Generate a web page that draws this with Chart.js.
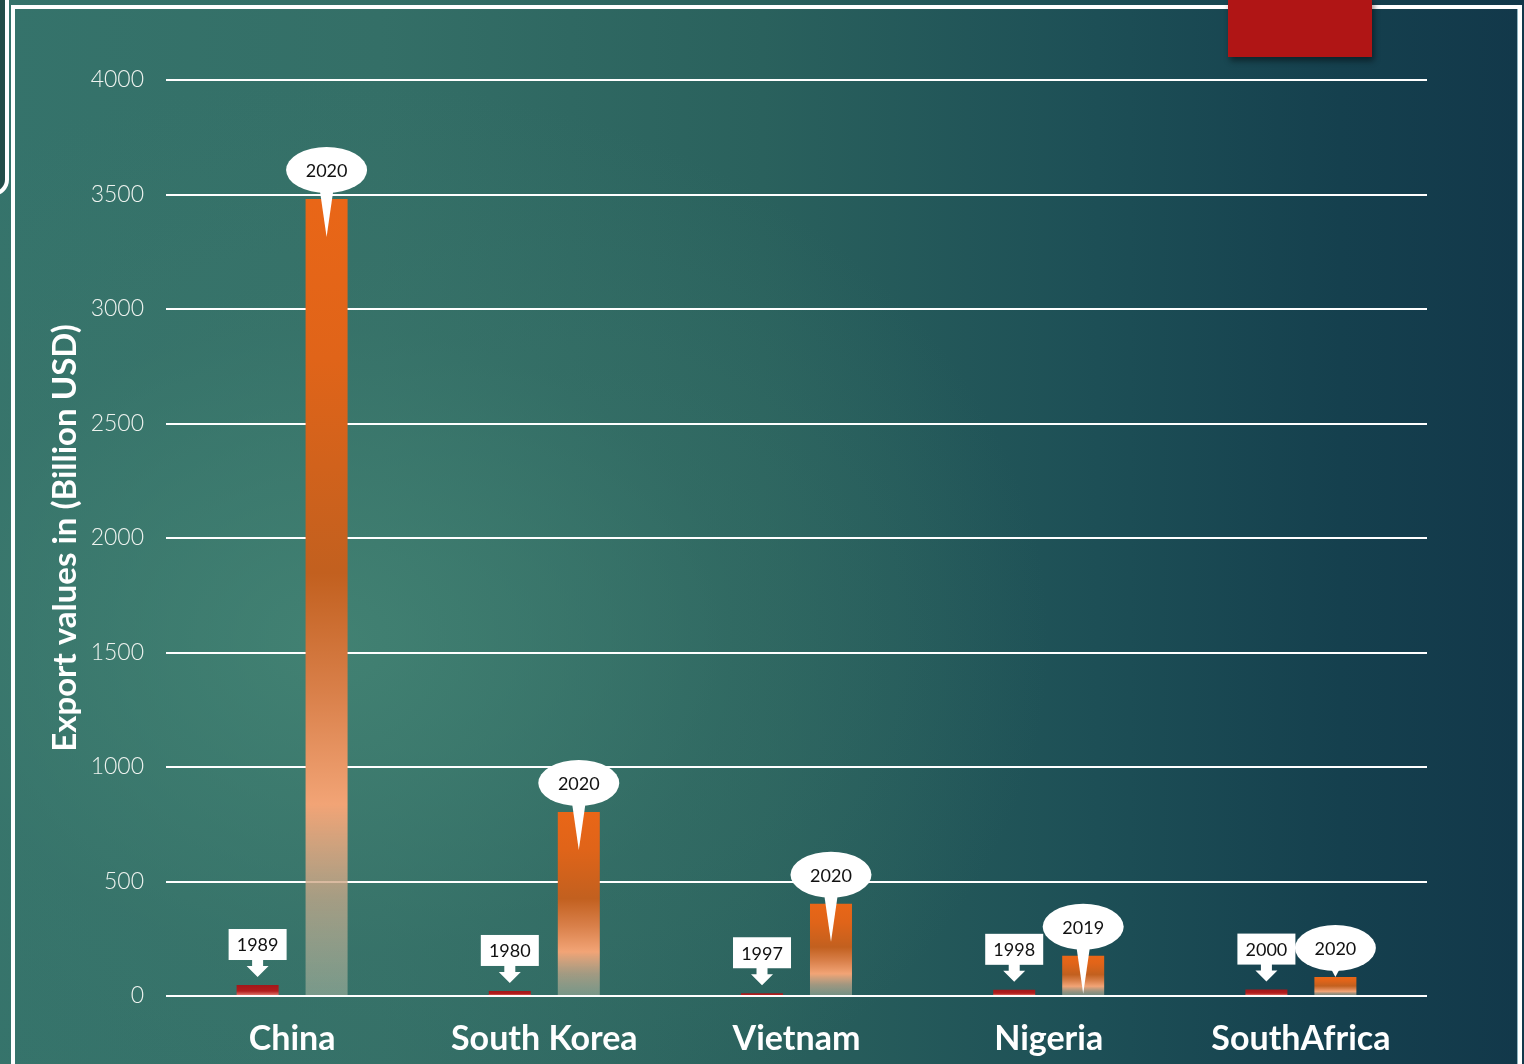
<!DOCTYPE html>
<html>
<head>
<meta charset="utf-8">
<script src="https://cdn.jsdelivr.net/npm/chart.js@4.4.1/dist/chart.umd.min.js"></script>
<style>
  html, body { margin: 0; padding: 0; }
  body {
    width: 1524px; height: 1064px; overflow: hidden; position: relative;
    background:
      radial-gradient(ellipse 900px 700px at 330px 640px, rgba(70,135,118,0.75) 0%, rgba(60,120,108,0.35) 45%, rgba(40,95,92,0) 80%),
      linear-gradient(to right, #35736b 0%, #346f67 25%, #2a615d 50%, #1d4f56 72%, #15404e 88%, #12384a 100%);
  }
  #c { position: absolute; left: 0; top: 0; z-index: 1; }
  .deco { position: absolute; box-sizing: border-box; z-index: 2; }
  #leftShape { left: -24px; top: -24px; width: 33px; height: 220px; border: 4px solid #fff; border-radius: 22px; background: #224d49; }
  #frame { left: 11px; top: 5px; width: 1511px; height: 1120px; border: 4px solid #fff; box-shadow: inset -1px 0 0 #8fb3c0; }
  #redBox { left: 1228px; top: -2px; width: 144px; height: 59px; background: #b01515; box-shadow: 2px 4px 6px rgba(0,0,0,0.45); z-index: 3; }
</style>
</head>
<body>
<div id="leftShape" class="deco"></div>
<div id="frame" class="deco"></div>
<div id="redBox" class="deco"></div>
<canvas id="c" width="1524" height="1064"></canvas>
<script>
// ---- data ----
const categories = ['China', 'South Korea', 'Vietnam', 'Nigeria', 'SouthAfrica'];
const earlyYears = ['1989', '1980', '1997', '1998', '2000'];
const recentYears = ['2020', '2020', '2020', '2019', '2020'];
const earlyValues = [48, 22, 12, 27, 28];
const recentValues = [3480, 803, 403, 176, 83];
const axisTitle = 'Export values in (Billion USD)';

const FONT = 'Lato, "Open Sans", sans-serif';

function barGradient(ctx, stops, fallback) {
  const chart = ctx.chart;
  const ys = chart.scales && chart.scales.y;
  if (!chart.chartArea || !ys || ctx.raw == null) return fallback;
  const top = ys.getPixelForValue(ctx.raw);
  const base = ys.getPixelForValue(0);
  if (!isFinite(top) || !isFinite(base) || base - top < 1) return fallback;
  const g = chart.ctx.createLinearGradient(0, top, 0, base);
  stops.forEach(s => g.addColorStop(s[0], s[1]));
  return g;
}

const redStops = [[0, '#a3171a'], [0.55, '#b21d1d'], [1, '#e7867a']];
const orangeStops = [[0, '#e96617'], [0.2, '#e06419'], [0.47, '#c2601f'], [0.62, '#d9804a'], [0.76, '#f2a476'], [0.88, 'rgba(200,170,140,0.75)'], [1, 'rgba(175,185,165,0.55)']];

const calloutPlugin = {
  id: 'callouts',
  afterDatasetsDraw(chart) {
    const ctx = chart.ctx;
    const ys = chart.scales.y;
    const base = ys.getPixelForValue(0);
    ctx.save();
    ctx.font = '18px ' + FONT;
    ctx.textAlign = 'center';
    ctx.textBaseline = 'middle';
    chart.getDatasetMeta(0).data.forEach((bar, i) => {
      const x = bar.x, top = bar.y;
      const w = 58, h = 31;
      const rb = top - 25;
      ctx.fillStyle = '#ffffff';
      ctx.fillRect(x - w / 2, rb - h, w, h);
      ctx.beginPath();
      ctx.moveTo(x - 5.5, rb - 1);
      ctx.lineTo(x + 5.5, rb - 1);
      ctx.lineTo(x + 5.5, rb + 6);
      ctx.lineTo(x + 11, rb + 6);
      ctx.lineTo(x, top - 8);
      ctx.lineTo(x - 11, rb + 6);
      ctx.lineTo(x - 5.5, rb + 6);
      ctx.closePath();
      ctx.fill();
      ctx.fillStyle = '#111111';
      ctx.fillText(earlyYears[i], x, rb - h / 2 + 1);
    });
    chart.getDatasetMeta(1).data.forEach((bar, i) => {
      const x = bar.x, top = bar.y;
      const cy = top - 29;
      const tipY = (base - top) > 30 ? top + 38 : top;
      ctx.fillStyle = '#ffffff';
      ctx.beginPath();
      ctx.ellipse(x, cy, 40.5, 23, 0, 0, Math.PI * 2);
      ctx.fill();
      ctx.beginPath();
      ctx.moveTo(x - 7.5, cy + 15);
      ctx.lineTo(x + 7.5, cy + 15);
      ctx.lineTo(x, tipY);
      ctx.closePath();
      ctx.fill();
      ctx.fillStyle = '#111111';
      ctx.fillText(recentYears[i], x, cy + 1);
    });
    ctx.restore();
  }
};

new Chart(document.getElementById('c'), {
  type: 'bar',
  data: {
    labels: categories,
    datasets: [
      {
        label: 'Early year',
        data: earlyValues,
        backgroundColor: c => barGradient(c, redStops, '#b01515'),
        barPercentage: 0.609,
        categoryPercentage: 0.547
      },
      {
        label: 'Recent year',
        data: recentValues,
        backgroundColor: c => barGradient(c, orangeStops, '#e86618'),
        barPercentage: 0.609,
        categoryPercentage: 0.547
      }
    ]
  },
  options: {
    responsive: false,
    animation: false,
    devicePixelRatio: 1,
    layout: { padding: { top: 80, right: 97, left: 0, bottom: 0 } },
    plugins: { legend: { display: false }, tooltip: { enabled: false } },
    scales: {
      x: {
        grid: { display: false, drawTicks: false },
        border: { display: false },
        ticks: { color: '#ffffff', font: { family: FONT, size: 34, weight: 'bold' }, padding: 23 },
        afterFit: s => { s.height = 68; }
      },
      y: {
        min: 0, max: 4000,
        ticks: { stepSize: 500, color: '#eef3ef', font: { family: FONT, size: 23, weight: 300 }, padding: 22, callback: v => String(v) },
        grid: { color: '#ffffff', lineWidth: 2, drawTicks: false },
        border: { display: false },
        title: { display: true, text: axisTitle, color: '#ffffff', font: { family: FONT, size: 33, weight: 'bold' }, padding: { top: 46, bottom: 0 } },
        afterFit: s => { s.width = 166; }
      }
    }
  },
  plugins: [calloutPlugin]
});
</script>
</body>
</html>
